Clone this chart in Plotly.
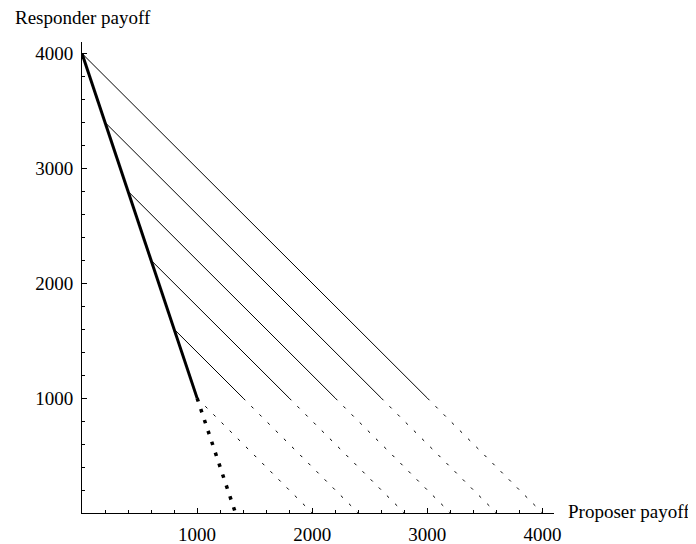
import plotly.graph_objects as go

# Data
thick_x = [0, 200, 400, 600, 800, 1000]
thick_y = [4000, 3400, 2800, 2200, 1600, 1000]
dotted_x = [1000, 1333.33]
dotted_y = [1000, 0]
solid_end_x = [3000, 2600, 2200, 1800, 1400]
solid_end_y = 1000
dashed_end_x = [4000, 3600, 3200, 2800, 2400, 2000]
dashed_end_y = 0
tick_vals = [1000, 2000, 3000, 4000]
tick_text = ["1000", "2000", "3000", "4000"]

FONT = "Liberation Serif"
FS = 19
fig = go.Figure()

# thin solid lines
for sx, sy, ex in zip(thick_x[:-1], thick_y[:-1], solid_end_x):
    fig.add_trace(go.Scatter(x=[sx, ex], y=[sy, solid_end_y], mode="lines",
                             line=dict(color="black", width=1), hoverinfo="skip"))
# thin dashed lines
starts_x = solid_end_x + [thick_x[-1]]
for sx, ex in zip(starts_x, dashed_end_x):
    fig.add_trace(go.Scatter(x=[sx, ex], y=[solid_end_y, dashed_end_y], mode="lines",
                             line=dict(color="black", width=1, dash="3px,8.5px"), hoverinfo="skip"))
# thick line
fig.add_trace(go.Scatter(x=thick_x, y=thick_y, mode="lines",
                         line=dict(color="black", width=3), hoverinfo="skip"))
# thick dotted
fig.add_trace(go.Scatter(x=dotted_x, y=dotted_y, mode="lines",
                         line=dict(color="black", width=3.5, dash="3.5px,8px"), hoverinfo="skip"))

axis_common = dict(
    range=[0, 4100], showgrid=False, zeroline=False, showline=True, automargin=False,
    linecolor="black", linewidth=1, ticks="inside", ticklen=5, tickcolor="black",
    tickwidth=1, tickvals=tick_vals, ticktext=tick_text,
    tickfont=dict(family=FONT, size=FS, color="black"),
    minor=dict(ticks="inside", ticklen=3, dtick=200, tick0=0, tickcolor="black", showgrid=False),
)
fig.update_xaxes(**axis_common, ticklabelstandoff=4)
fig.update_yaxes(**axis_common, ticklabelstandoff=4)

# page body has an 8px margin, so the figure is 8px smaller than the window
fig.update_layout(
    width=688, height=536, showlegend=False,
    plot_bgcolor="white", paper_bgcolor="white",
    margin=dict(l=74, r=142, t=34, b=31),
    annotations=[
        dict(text="Responder payoff", xref="paper", yref="paper", x=-0.146, y=1.0526,
             xanchor="left", yanchor="middle", showarrow=False,
             font=dict(family=FONT, size=FS, color="black")),
        dict(text="Proposer payoff", xref="paper", yref="paper", x=1.025, y=0.003,
             xanchor="left", yanchor="middle", showarrow=False,
             font=dict(family=FONT, size=FS, color="black")),
    ],
)
fig.write_html("out.html")
